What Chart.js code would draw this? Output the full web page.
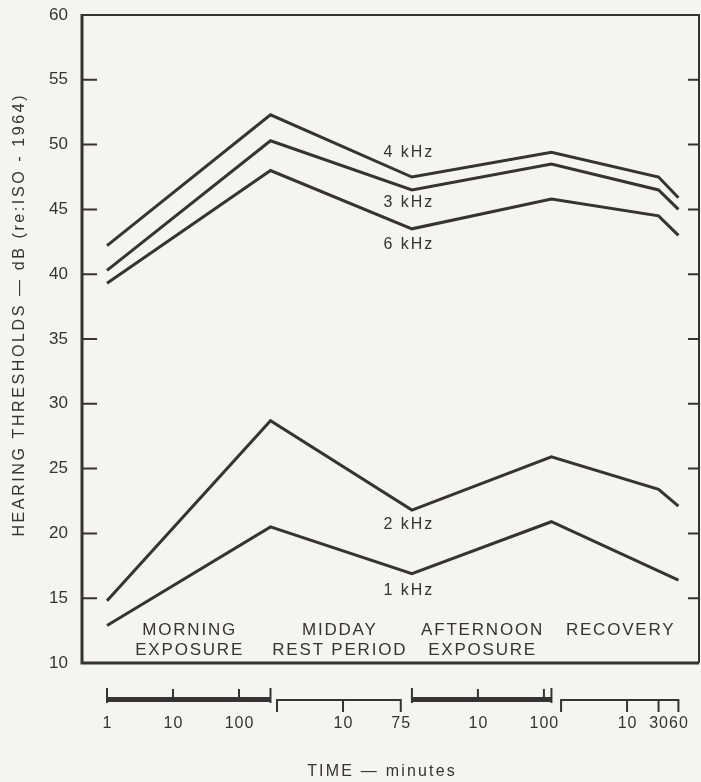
<!DOCTYPE html>
<html>
<head>
<meta charset="utf-8">
<script src="https://cdn.jsdelivr.net/npm/chart.js@4"></script>
<style>
  html, body { margin: 0; padding: 0; background: #f4f4f2; }
  canvas { display: block; }
</style>
</head>
<body>
<canvas id="hearing" width="701" height="782"></canvas>
<script>
// time axis is made of four phases, each on its own log scale (minutes)
var phases = ["morning", "midday", "afternoon", "recovery"];
var phaseTitles = [["MORNING", "EXPOSURE"], ["MIDDAY", "REST PERIOD"], ["AFTERNOON", "EXPOSURE"], ["RECOVERY"]];
var phaseStart = [0, 2.576, 4.62, 6.88]; // offset of each phase, in decades
var phaseEnd = [300, 75, 130, 60];       // minutes at end of phase
var phaseExposure = [true, false, true, false];
var phaseTicks = [[1, 10, 100], [10, 75], [10, 100], [10, 30, 60]];

// measurement times: [phase index, minutes]
var times = [[0, 1], [0, 300], [2, 1], [2, 130], [3, 30], [3, 60]];

var freqLabels = ["4 kHz", "3 kHz", "6 kHz", "2 kHz", "1 kHz"];
var khz4 = [42.2, 52.3, 47.5, 49.4, 47.5, 45.9];
var khz3 = [40.3, 50.3, 46.5, 48.5, 46.5, 45.0];
var khz6 = [39.3, 48.0, 43.5, 45.8, 44.5, 43.0];
var khz2 = [14.8, 28.7, 21.8, 25.9, 23.4, 22.1];
var khz1 = [12.9, 20.5, 16.9, 20.9, null, 16.4];

var yTicks = [10, 15, 20, 25, 30, 35, 40, 45, 50, 55, 60];

var ink = "#353333";
var labelShift = [-24, 13, 16, 15, 17]; // px from the afternoon-start point
var font = "'Liberation Sans', Arial, sans-serif";

function timePos(phase, min) {
  return phaseStart[phase] + Math.log10(min);
}

function series(vals) {
  var pts = [];
  vals.forEach(function (v, i) {
    if (v !== null) pts.push({ x: timePos(times[i][0], times[i][1]), y: v });
  });
  return pts;
}

var allSeries = [khz4, khz3, khz6, khz2, khz1];

function txt(ctx, s, x, y, f, spacing, align) {
  ctx.save();
  ctx.font = f;
  ctx.letterSpacing = spacing + "px";
  ctx.fillStyle = ink;
  ctx.textAlign = align || "center";
  ctx.textBaseline = "middle";
  // letterSpacing adds trailing space; nudge to keep centered
  var dx = (align === "center" || !align) ? spacing / 2 : 0;
  ctx.fillText(s, x + dx, y);
  ctx.restore();
}

var decor = {
  id: "decor",
  beforeDraw: function (chart) {
    var ctx = chart.ctx;
    ctx.save();
    ctx.fillStyle = "#f4f4f2";
    ctx.fillRect(0, 0, chart.width, chart.height);
    ctx.restore();
  },
  afterDraw: function (chart) {
    var ctx = chart.ctx, a = chart.chartArea;
    var xs = chart.scales.x, ys = chart.scales.y;
    ctx.save();
    ctx.strokeStyle = ink;
    ctx.fillStyle = ink;

    // frame
    ctx.lineWidth = 2;
    ctx.beginPath();
    ctx.moveTo(a.left, a.top); ctx.lineTo(a.right, a.top); ctx.lineTo(a.right, a.bottom);
    ctx.stroke();
    ctx.lineWidth = 3;
    ctx.beginPath();
    ctx.moveTo(a.left, a.top - 1); ctx.lineTo(a.left, a.bottom); ctx.lineTo(a.right, a.bottom);
    ctx.stroke();

    // inward tick marks on both sides
    ctx.lineWidth = 2;
    yTicks.forEach(function (v) {
      if (v === 10 || v === 60) return;
      var y = ys.getPixelForValue(v);
      ctx.beginPath();
      ctx.moveTo(a.left, y); ctx.lineTo(a.left + 15, y);
      ctx.moveTo(a.right, y); ctx.lineTo(a.right - 11, y);
      ctx.stroke();
    });

    // phase names inside the plot
    phaseTitles.forEach(function (lines, i) {
      var cx = (xs.getPixelForValue(phaseStart[i]) + xs.getPixelForValue(timePos(i, phaseEnd[i]))) / 2;
      lines.forEach(function (s, j) {
        txt(ctx, s, cx, 630 + j * 20, "17px " + font, 1.8);
      });
    });

    // curve labels
    freqLabels.forEach(function (s, i) {
      var p = chart.getDatasetMeta(i).data[2];
      txt(ctx, s, p.x - 4, p.y + labelShift[i], "16px " + font, 2);
    });

    // broken time axis below the plot
    var barY = 700;
    phases.forEach(function (ph, i) {
      var x0 = xs.getPixelForValue(phaseStart[i]);
      var x1 = xs.getPixelForValue(timePos(i, phaseEnd[i]));
      if (phaseExposure[i]) {
        ctx.fillRect(x0, barY - 3, x1 - x0, 5);
        ctx.lineWidth = 2;
        ctx.beginPath();
        ctx.moveTo(x0, barY - 12); ctx.lineTo(x0, barY + 3);
        ctx.moveTo(x1, barY - 12); ctx.lineTo(x1, barY + 3);
        phaseTicks[i].forEach(function (t) {
          if (t === 1) return;
          var x = xs.getPixelForValue(timePos(i, t));
          ctx.moveTo(x, barY - 11); ctx.lineTo(x, barY);
        });
        ctx.stroke();
      } else {
        ctx.lineWidth = 2;
        ctx.beginPath();
        ctx.moveTo(x0, barY + 12); ctx.lineTo(x0, barY); ctx.lineTo(x1, barY); ctx.lineTo(x1, barY + 12);
        phaseTicks[i].forEach(function (t) {
          var x = xs.getPixelForValue(timePos(i, t));
          ctx.moveTo(x, barY); ctx.lineTo(x, barY + 12);
        });
        ctx.stroke();
      }
      phaseTicks[i].forEach(function (t) {
        var x = xs.getPixelForValue(timePos(i, t));
        txt(ctx, String(t), x, 724, "16px " + font, 1);
      });
    });

    // axis titles
    txt(ctx, "TIME \u2014 minutes", 381, 772, "16px " + font, 2.2);
    ctx.save();
    ctx.translate(20, 316);
    ctx.rotate(-Math.PI / 2);
    txt(ctx, "HEARING THRESHOLDS \u2014 dB (re:ISO - 1964)", 0, 0, "16px " + font, 2.6);
    ctx.restore();

    ctx.restore();
  }
};

new Chart(document.getElementById("hearing").getContext("2d"), {
  type: "line",
  data: {
    datasets: allSeries.map(function (vals, i) {
      return {
        label: freqLabels[i],
        data: series(vals),
        borderColor: ink,
        borderWidth: 3,
        pointRadius: 0,
        tension: 0,
        spanGaps: true,
        fill: false
      };
    })
  },
  options: {
    responsive: false,
    devicePixelRatio: 1,
    animation: false,
    layout: { padding: { left: 0, right: 2, top: 15, bottom: 119 } },
    plugins: { legend: { display: false }, tooltip: { enabled: false } },
    scales: {
      x: {
        type: "linear",
        display: false,
        min: -0.379,
        max: 8.97
      },
      y: {
        min: 10,
        max: 60,
        afterFit: function (s) { s.width = 82; s.paddingTop = 0; s.paddingBottom = 0; },
        afterBuildTicks: function (s) { s.ticks = yTicks.map(function (v) { return { value: v }; }); },
        grid: { drawOnChartArea: false, drawTicks: false },
        border: { display: false },
        ticks: {
          padding: 14,
          color: ink,
          font: { family: font, size: 17 }
        }
      }
    }
  },
  plugins: [decor]
});
</script>
</body>
</html>
